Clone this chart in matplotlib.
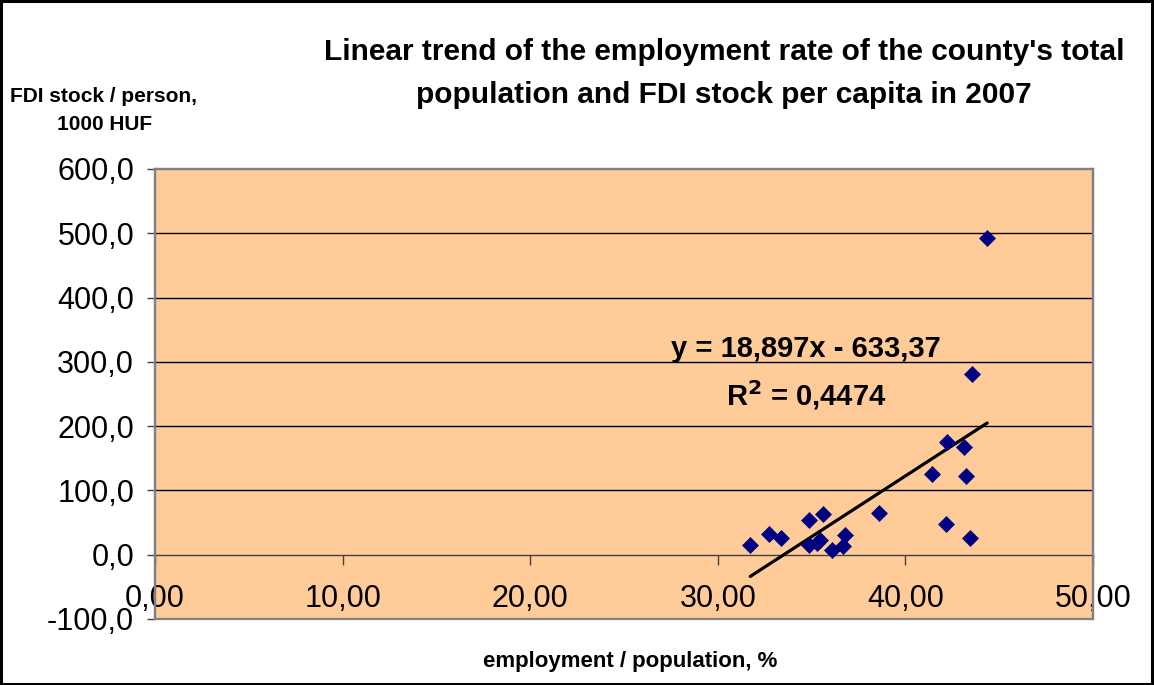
import matplotlib
matplotlib.use("Agg")
import matplotlib.pyplot as plt
import numpy as np
from matplotlib.patches import Rectangle
from matplotlib.ticker import FuncFormatter

plt.rcParams['font.family'] = ['Liberation Sans', 'DejaVu Sans']

# Data (employment / population %, FDI stock per person 1000 HUF)
employment = [31.73, 32.75, 33.35, 34.88, 35.60, 34.85, 35.30, 35.47, 36.09, 36.70,
              36.80, 38.61, 42.15, 43.47, 44.36, 43.56, 42.22, 43.15, 41.42, 43.25]
fdi = [15, 33, 26, 54, 63, 15, 18, 23, 8, 14,
       31, 65, 48, 26, 492, 281, 176, 167, 125, 123]

slope = 18.897
intercept = -633.37
r2_text = "0,4474"

x_ticks = [0, 10, 20, 30, 40, 50]
y_ticks = [-100, 0, 100, 200, 300, 400, 500, 600]

fig = plt.figure(figsize=(11.54, 6.85), dpi=100)
fig.patch.set_facecolor('white')
# outer border
fig.patches.append(Rectangle((0.001, 0.002), 0.997, 0.996, transform=fig.transFigure,
                             fill=False, edgecolor='black', linewidth=2.2))

ax = fig.add_axes([155/1154, 1-619/685, (1093-155)/1154, (619-169)/685])
ax.set_facecolor('#FFCC99')
ax.set_xlim(0, 50)
ax.set_ylim(-100, 600)

# gridlines
for yv in y_ticks[2:-1]:
    ax.axhline(yv, color='black', linewidth=1.0, zorder=1)

# spines
for s in ['top', 'left', 'right']:
    ax.spines[s].set_color('#808080')
    ax.spines[s].set_linewidth(1.6)
ax.spines['bottom'].set_position(('data', 0))
ax.spines['bottom'].set_color('#404040')
ax.spines['bottom'].set_linewidth(1.0)
ax.add_patch(Rectangle((0, 0), 1, 1, transform=ax.transAxes, fill=False,
                       edgecolor='#808080', linewidth=1.6, zorder=5, clip_on=False))

ax.set_xticks(x_ticks)
ax.set_yticks(y_ticks)
ax.xaxis.set_major_formatter(FuncFormatter(lambda v, p: f"{v:.2f}".replace('.', ',')))
ax.yaxis.set_major_formatter(FuncFormatter(lambda v, p: f"{v:.1f}".replace('.', ',')))
ax.tick_params(axis='x', direction='out', length=7, width=1, color='#404040',
               labelsize=22, pad=14)
ax.tick_params(axis='y', direction='out', length=6, width=1, color='#404040',
               labelsize=22, pad=9)

# data
ax.scatter(employment, fdi, marker='D', s=75, color='#000080', zorder=4, linewidths=0)

# trend line
xs = np.array([min(employment), max(employment)])
ax.plot(xs, slope*xs + intercept, color='black', linewidth=2.3, zorder=3,
        solid_capstyle='round')

fig.text(806/1154, 1-349/685, "y = 18,897x - 633,37", ha='center', va='center',
         fontsize=21, fontweight='bold')
fig.text(806/1154, 1-395/685, "R$^\\mathbf{2}$ = " + r2_text, ha='center', va='center',
         fontsize=21, fontweight='bold')

# title
fig.text(724/1154, 1-52/685, "Linear trend of the employment rate of the county's total",
         ha='center', va='center', fontsize=21.5, fontweight='bold')
fig.text(724/1154, 1-95/685, "population and FDI stock per capita in 2007",
         ha='center', va='center', fontsize=21.5, fontweight='bold')

# axis labels
fig.text(103/1154, 1-97/685, "FDI stock / person,", ha='center', va='center',
         fontsize=15, fontweight='bold')
fig.text(105/1154, 1-125/685, "1000 HUF", ha='center', va='center',
         fontsize=15, fontweight='bold')
fig.text(630/1154, 1-661/685, "employment / population, %", ha='center', va='center',
         fontsize=16, fontweight='bold')

fig.savefig('out.png', dpi=100)
